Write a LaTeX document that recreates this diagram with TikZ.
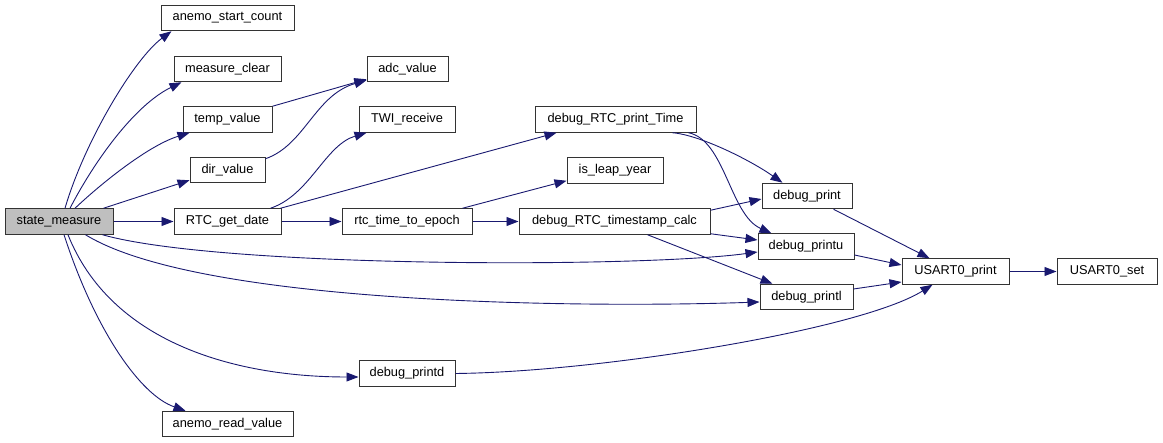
\documentclass[tikz,border=0pt]{standalone}
\usepackage{fontspec}
\setmainfont{Liberation Sans}
\usepackage{tikz}
\usetikzlibrary{arrows.meta}
\definecolor{callblue}{RGB}{25,25,112}
\definecolor{rootgray}{RGB}{191,191,191}

\begin{document}
\begin{tikzpicture}[
  x=1pt, y=-1pt,
  font=\fontsize{12.8}{14}\selectfont,
  func/.style={draw=black!80, line width=1pt, fill=white, inner sep=0pt, minimum height=25.5pt},
  root/.style={func, fill=rootgray},
  call/.style={-{Triangle[length=12pt,width=9pt]}, draw=callblue, line width=0.9pt}
]
\useasboundingbox (0,0) rectangle (1163,443);
% functions
\node[root, minimum width=108pt] (sm) at (59,221.5) {state\_measure};
\node[func, minimum width=133pt] (asc) at (227.5,18) {anemo\_start\_count};
\node[func, minimum width=107pt] (mc) at (227.5,69) {measure\_clear};
\node[func, minimum width=89pt] (tv) at (227.5,119.5) {temp\_value};
\node[func, minimum width=75pt] (dv) at (227.5,170) {dir\_value};
\node[func, minimum width=107pt] (rgd) at (227.5,221.5) {RTC\_get\_date};
\node[func, minimum width=131pt] (arv) at (227.5,424) {anemo\_read\_value};
\node[func, minimum width=81pt] (adc) at (407.5,69) {adc\_value};
\node[func, minimum width=96pt] (twi) at (407,119.5) {TWI\_receive};
\node[func, minimum width=130pt] (rte) at (407,221.5) {rtc\_time\_to\_epoch};
\node[func, minimum width=96pt] (dpd) at (407,373.5) {debug\_printd};
\node[func, minimum width=161pt] (drp) at (615.5,119.5) {debug\_RTC\_print\_Time};
\node[func, minimum width=96pt] (ily) at (615,170.5) {is\_leap\_year};
\node[func, minimum width=191pt] (dtc) at (614.5,221.5) {debug\_RTC\_timestamp\_calc};
\node[func, minimum width=90pt] (dp) at (807,196) {debug\_print};
\node[func, minimum width=96pt] (dpu) at (806,246.5) {debug\_printu};
\node[func, minimum width=93pt] (dpl) at (806.5,297) {debug\_printl};
\node[func, minimum width=107pt] (up) at (955.5,271.5) {USART0\_print};
\node[func, minimum width=100pt] (us) at (1107,271.5) {USART0\_set};
% calls from state_measure
\draw[call] ([xshift=6pt]sm.north) .. controls (85,140) and (135,58) .. ([xshift=11pt]asc.south west);
\draw[call] ([xshift=11pt]sm.north) .. controls (95,160) and (135,105) .. ([xshift=8pt]mc.south west);
\draw[call] ([xshift=16pt]sm.north) .. controls (105,180) and (150,145) .. ([xshift=7pt]tv.south west);
\draw[call] ([xshift=-10pt]sm.north east) -- ([yshift=3pt]dv.south west);
\draw[call] (sm) -- (rgd);
\draw[call] ([xshift=-11pt]sm.south east) .. controls (220,268) and (640,268) .. ([yshift=-5.5pt]dpu.west);
\draw[call] ([xshift=-28pt]sm.south east) .. controls (200,305) and (585,308) .. ([yshift=-5pt]dpl.west);
\draw[call] ([xshift=9pt]sm.south) .. controls (110,340) and (230,377) .. ([yshift=-3.5pt]dpd.west);
\draw[call] ([xshift=5pt]sm.south) .. controls (95,330) and (140,395) .. ([xshift=24pt]arv.north west);
% second level
\draw[call] (tv.north east) -- ([yshift=3pt]adc.south west);
\draw[call] ([yshift=-2pt]dv.north east) .. controls (305,145) and (315,95) .. ([yshift=2pt]adc.south west);
\draw[call] ([xshift=-11pt]rgd.north east) .. controls (310,195) and (325,145) .. ([xshift=8pt]twi.south west);
\draw[call] ([xshift=-1pt]rgd.north east) -- ([xshift=22pt]drp.south west);
\draw[call] (rgd) -- (rte);
\draw[call] ([xshift=-10pt]rte.north east) -- ([yshift=3pt]ily.south west);
\draw[call] (rte) -- (dtc);
% debug output
\draw[call] ([xshift=-24pt]drp.south east) .. controls (700,135) and (750,160) .. ([xshift=21pt]dp.north west);
\draw[call] ([xshift=-8pt]drp.south east) .. controls (725,140) and (730,215) .. ([xshift=14pt]dpu.north west);
\draw[call] ([yshift=-2pt]dtc.north east) -- ([yshift=-3pt]dp.west);
\draw[call] ([yshift=1pt]dtc.south east) -- ([yshift=6.5pt]dpu.west);
\draw[call] ([xshift=33pt]dtc.south) -- ([xshift=13pt]dpl.north west);
\draw[call] ([xshift=-19pt]dp.south east) -- ([xshift=28pt]up.north west);
\draw[call] ([yshift=-8.5pt]dpu.east) -- ([yshift=6.5pt]up.west);
\draw[call] ([yshift=8pt]dpl.east) -- ([yshift=-10.5pt]up.west);
\draw[call] (dpd.east) .. controls (600,372) and (860,330) .. ([xshift=31pt]up.south west);
\draw[call] (up) -- (us);
\end{tikzpicture}
\end{document}
